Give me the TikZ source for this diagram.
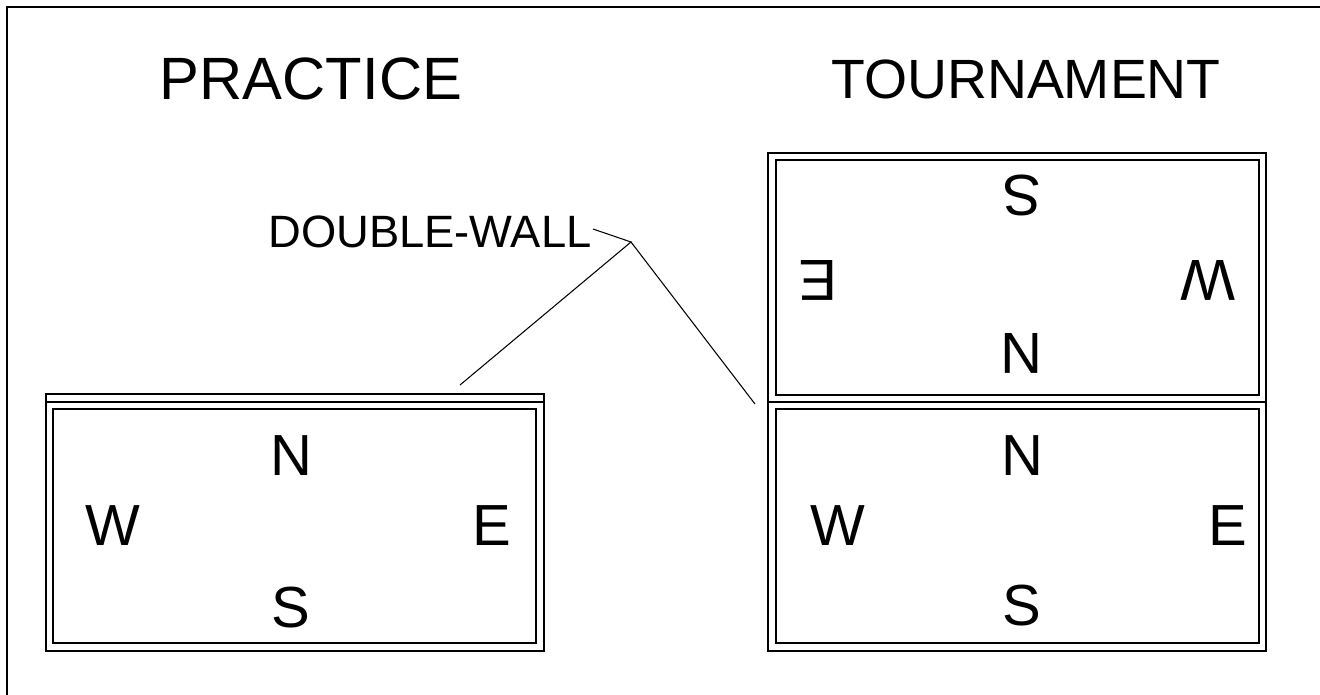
\documentclass[tikz,border=0pt]{standalone}
\usepackage{fontspec}
\setmainfont{Liberation Sans}
\usetikzlibrary{positioning}

\begin{document}
\begin{tikzpicture}[x=0.02cm, y=-0.02cm, wall/.style={line width=0.9pt},
		lead/.style={line width=0.6pt},
		every node/.style={inner sep=0pt, font=\fontsize{33}{33}\selectfont}]
	\useasboundingbox (0,0) rectangle (1320,694);
	\draw[line width=1.1pt] (7,700) -- (7,7) -- (1330,7);

	% practice table
	\draw[wall] (46,394) rectangle (544,651);
	\draw[wall] (46,402) -- (544,402);
	\draw[wall] (53,409) rectangle (536,643);

	% tournament tables
	\draw[wall] (768,153) rectangle (1266,651);
	\draw[wall] (768,402) -- (1266,402);
	\draw[wall] (776,160) rectangle (1259,395);
	\draw[wall] (776,409) rectangle (1259,643);

	\node[font=\fontsize{34}{34}\selectfont] (practice) at (311,79) {PRACTICE};
	\node[font=\fontsize{31.5}{31.5}\selectfont] (tournament) at (1026,79) {TOURNAMENT};

	\node (pN) at (291,456) {N};
	\node (pW) at (113,526) {W};
	\node (pE) at (492,526) {E};
	\node (pS) at (291,608) {S};

	\node (tN) at (1022,456) {N};
	\node (tW) at (838,526) {W};
	\node (tE) at (1228,526) {E};
	\node (tS) at (1022,606) {S};

	\node[rotate=180] (uS) at (1022,195) {S};
	\node[rotate=180] (uE) at (818,280) {E};
	\node[rotate=180] (uW) at (1208,280) {W};
	\node[rotate=180] (uN) at (1022,353) {N};

	\node[anchor=west, font=\fontsize{25.8}{25.8}\selectfont] (dw) at (268,232) {DOUBLE-WALL};
	\coordinate (tip) at (593,229);
	\coordinate (apex) at (631,242);
	\coordinate (pwall) at (460,385);
	\coordinate (twall) at (755,404);
	\draw[lead] (tip) -- (apex) -- (pwall);
	\draw[lead] (apex) -- (twall);
\end{tikzpicture}
\end{document}
